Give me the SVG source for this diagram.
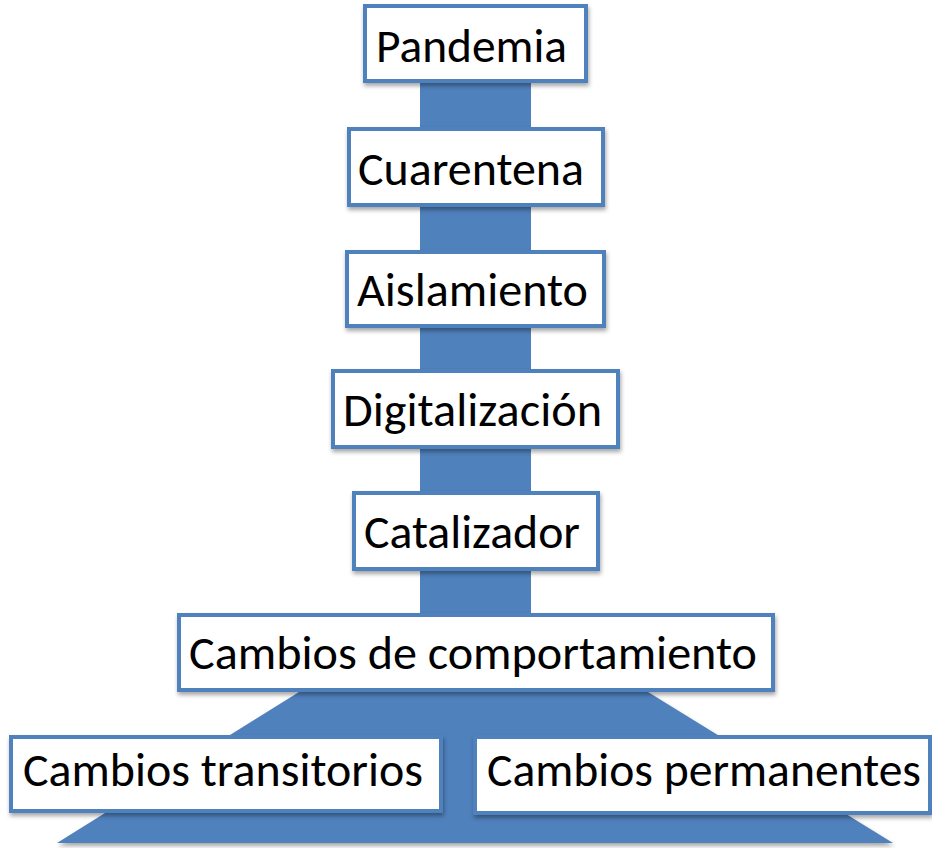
<svg xmlns="http://www.w3.org/2000/svg" width="932" height="848" viewBox="0 0 932 848">
  <defs>
    <filter id="sh" x="-10%" y="-10%" width="120%" height="130%">
      <feDropShadow dx="1" dy="3" stdDeviation="2" flood-color="#000" flood-opacity="0.35"/>
    </filter>
  </defs>
  <style>
    .box { fill: #ffffff; stroke: #4f81bd; stroke-width: 4; filter: url(#sh); }
    .conn { fill: #4f81bd; }
    .lbl { font-family: "Carlito", "Liberation Sans", "Open Sans", sans-serif; font-size: 47px; fill: #000000; }
  </style>
  <rect width="932" height="848" fill="#ffffff"/>
  <g id="connectors">
    <rect class="conn" x="420" y="40" width="111" height="620"/>
    <polygon class="conn" points="299,692 648,692 893,843 57,843" filter="url(#sh)"/>
  </g>
  <g id="pandemia">
    <rect class="box" x="365" y="6" width="221" height="75"/>
    <text class="lbl" x="376" y="62" textLength="191" lengthAdjust="spacingAndGlyphs">Pandemia</text>
  </g>
  <g id="cuarentena">
    <rect class="box" x="349" y="129" width="254" height="76"/>
    <text class="lbl" x="358" y="185" textLength="226" lengthAdjust="spacingAndGlyphs">Cuarentena</text>
  </g>
  <g id="aislamiento">
    <rect class="box" x="347" y="252" width="257" height="74"/>
    <text class="lbl" x="357" y="306" textLength="231" lengthAdjust="spacingAndGlyphs">Aislamiento</text>
  </g>
  <g id="digitalizacion">
    <rect class="box" x="333" y="371" width="285" height="76"/>
    <text class="lbl" x="343" y="426" textLength="259" lengthAdjust="spacingAndGlyphs">Digitalización</text>
  </g>
  <g id="catalizador">
    <rect class="box" x="354" y="493" width="244" height="76"/>
    <text class="lbl" x="364" y="548" textLength="216" lengthAdjust="spacingAndGlyphs">Catalizador</text>
  </g>
  <g id="cambios-comportamiento">
    <rect class="box" x="179" y="615" width="594" height="75"/>
    <text class="lbl" x="189" y="669" textLength="568" lengthAdjust="spacingAndGlyphs">Cambios de comportamiento</text>
  </g>
  <g id="cambios-transitorios">
    <rect class="box" x="11" y="737" width="430" height="74"/>
    <text class="lbl" x="23" y="786" textLength="400" lengthAdjust="spacingAndGlyphs">Cambios transitorios</text>
  </g>
  <g id="cambios-permanentes">
    <rect class="box" x="475" y="737" width="455" height="76"/>
    <text class="lbl" x="487" y="786" textLength="434" lengthAdjust="spacingAndGlyphs">Cambios permanentes</text>
  </g>
</svg>
